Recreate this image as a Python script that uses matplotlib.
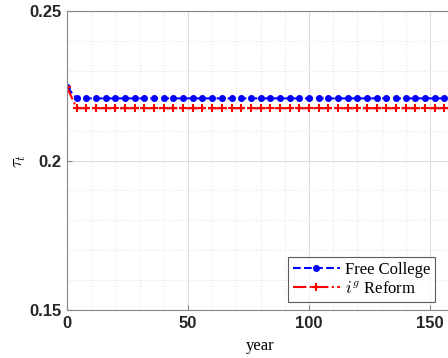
import numpy as np
import matplotlib
matplotlib.use('Agg')
import matplotlib.pyplot as plt
from matplotlib.ticker import MultipleLocator

plt.rcParams['mathtext.fontset'] = 'cm'

years = np.arange(0, 201, 4)
tau_free = [0.2245] + [0.2208] * (len(years) - 1)
tau_ig = [0.2245] + [0.2175] * (len(years) - 1)

fig = plt.figure(figsize=(4.48, 3.58), dpi=100)
# right edge of the axes falls just outside the picture, as in the original
ax = fig.add_axes([0.1496, 0.134, 0.864, 0.835])

ax.plot(years, tau_free, '--', color='blue', marker='o', markersize=4,
        linewidth=1.5, label='Free College')
ax.plot(years, tau_ig, '-.', color='red', marker='+', markersize=6,
        markeredgewidth=1.5, linewidth=1.5, label='$i^g$ Reform')

ax.set_xlim(0, 160)
ax.set_ylim(0.15, 0.25)
ax.xaxis.set_major_locator(MultipleLocator(50))
ax.xaxis.set_minor_locator(MultipleLocator(10))
ax.yaxis.set_minor_locator(MultipleLocator(0.01))
ax.set_yticks([0.15, 0.2, 0.25])
ax.set_yticklabels(['0.15', '0.2', '0.25'])

ax.grid(which='major', color='#dddddd', linewidth=0.8)
ax.grid(which='minor', color='#e6e6e6', linestyle=':', linewidth=0.8)
ax.tick_params(which='both', direction='in', color='#888888', pad=4)
ax.tick_params(which='minor', length=0)
for lab in ax.get_xticklabels() + ax.get_yticklabels():
    lab.set_fontweight('bold')
    lab.set_fontsize(12)
    lab.set_family('Liberation Sans')
    lab.set_color('#262626')
for s in ax.spines.values():
    s.set_color('#888888')

ax.set_xlabel('year', family='Liberation Serif', fontsize=12)
ax.xaxis.set_label_coords(0.5, -0.095)
ax.set_ylabel(r'$\tau_t$', fontsize=13)
ax.yaxis.set_label_coords(-0.10, 0.5)

leg = ax.legend(loc='lower right', bbox_to_anchor=(0.971, 0.156),
                bbox_transform=fig.transFigure, prop={'family': 'Liberation Serif', 'size': 12},
                fancybox=False, edgecolor='#333333', handlelength=2.8,
                borderpad=0.3, labelspacing=0.2, handletextpad=0.3, borderaxespad=0)
leg.get_frame().set_linewidth(0.8)

fig.savefig('out.png', dpi=100)
